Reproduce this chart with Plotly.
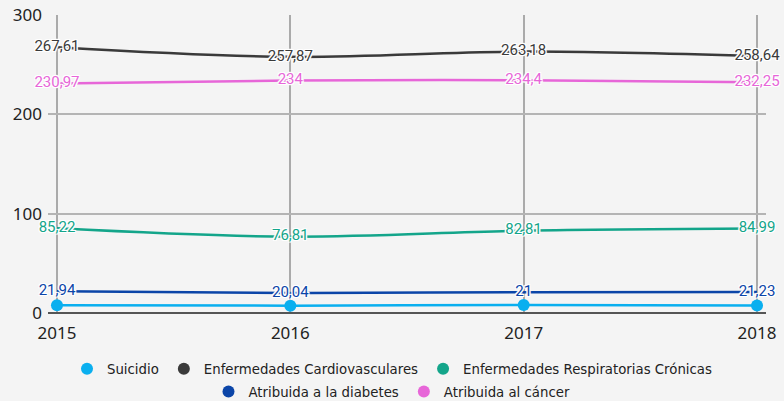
import plotly.graph_objects as go

years = [2015, 2016, 2017, 2018]
suicidio = [7.7, 7.4, 8.0, 7.5]
cardio = [267.61, 257.87, 263.18, 258.64]
respiratorias = [85.22, 76.81, 82.81, 84.99]
diabetes = [21.94, 20.04, 21.0, 21.23]
cancer = [230.97, 234.0, 234.4, 232.25]

names = ["Suicidio", "Enfermedades Cardiovasculares", "Enfermedades Respiratorias Crónicas",
         "Atribuida a la diabetes", "Atribuida al cáncer"]
colors = ["#0aafef", "#3a3a3a", "#13a58a", "#0b45a8", "#e766d8"]
series = [suicidio, cardio, respiratorias, diabetes, cancer]
show_labels = [False, True, True, True, True]
legend_rows = ["legend", "legend", "legend", "legend2", "legend2"]
y_ticks = [0, 100, 200, 300]


def fmt(v):
    s = ("%.2f" % v).rstrip("0").rstrip(".")
    return s.replace(".", ",")


halo = ", ".join(["0 0 2px #fff"] * 6 + ["1px 1px 0 #fff", "-1px -1px 0 #fff",
                                           "1px -1px 0 #fff", "-1px 1px 0 #fff"])

fig = go.Figure()
for name, col, vals, lab in zip(names, colors, series, show_labels):
    if lab:
        fig.add_trace(go.Scatter(
            x=years, y=vals, mode="lines+text", name=name,
            line=dict(color=col, width=2.5, shape="spline"),
            text=[fmt(v) for v in vals], textposition="middle center",
            textfont=dict(family="Roboto", size=15, color=col, shadow=halo),
            showlegend=False, cliponaxis=False))
    else:
        fig.add_trace(go.Scatter(
            x=years, y=vals, mode="lines+markers", name=name,
            line=dict(color=col, width=2.5, shape="spline"),
            marker=dict(size=12, color=col), showlegend=False, cliponaxis=False))

# legend entries
for name, col, lg in zip(names, colors, legend_rows):
    fig.add_trace(go.Scatter(x=[None], y=[None], mode="markers", name=name,
                             marker=dict(size=16, color=col), legend=lg))

legend_common = dict(orientation="h", xref="container", x=0.5, xanchor="center",
                     yanchor="middle", font=dict(family="DejaVu Sans", size=13.3, color="#222"),
                     itemsizing="constant", bgcolor="rgba(0,0,0,0)")

fig.update_layout(
    width=784, height=401,
    paper_bgcolor="#f4f4f4", plot_bgcolor="#f4f4f4",
    margin=dict(l=48, r=18, t=15, b=88, autoexpand=False),
    font=dict(family="Noto Sans", color="#222"),
    showlegend=True,
    legend=dict(y=-0.188, **legend_common),
    legend2=dict(y=-0.265, **legend_common),
    xaxis=dict(range=[2015 - 0.0385, 2018 + 0.0385], tickvals=years,
               ticktext=[str(y) for y in years],
               showgrid=True, gridcolor="#aaaaaa", gridwidth=1.5,
               zeroline=False, showline=False, ticks="", ticklabelstandoff=8,
               tickfont=dict(size=17, color="#222")),
    yaxis=dict(range=[0, 300], tickvals=y_ticks, ticktext=[str(t) for t in y_ticks],
               showgrid=True, gridcolor="#b4b4b4", gridwidth=1.5,
               zeroline=True, zerolinecolor="#555", zerolinewidth=1.5,
               showline=False, ticks="", ticklabelstandoff=5,
               tickfont=dict(size=17, color="#222")),
)

fig.write_html("out.html", config={"displayModeBar": False})
with open("out.html", encoding="utf-8") as f:
    html = f.read()
html = html.replace("<body>", '<body style="margin:0;padding:0;overflow:hidden">', 1)
with open("out.html", "w", encoding="utf-8") as f:
    f.write(html)
